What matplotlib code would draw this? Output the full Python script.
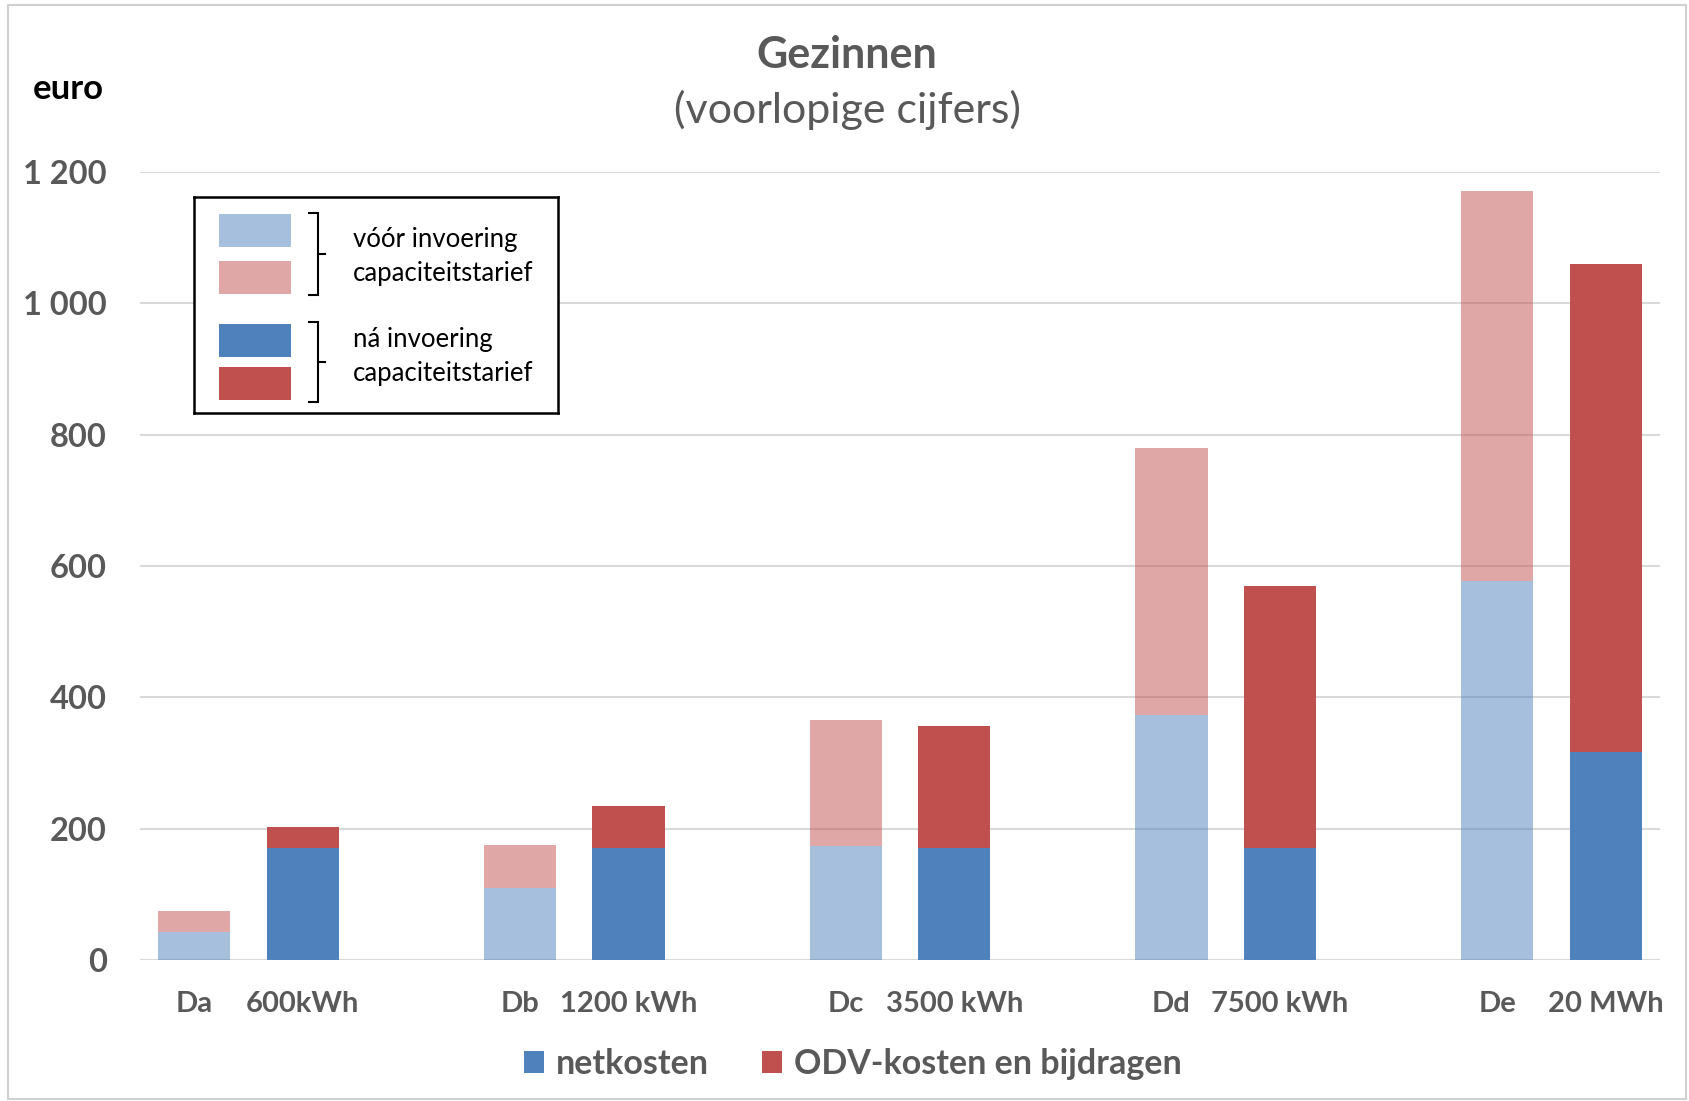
import matplotlib
matplotlib.use("Agg")
import matplotlib.pyplot as plt
from matplotlib.patches import Rectangle, Patch

plt.rcParams['font.family'] = ['Lato', 'DejaVu Sans']

# Data: yearly cost per household profile (euro)
groups = ['Da', 'Db', 'Dc', 'Dd', 'De']
verbruik = ['600kWh', '1200 kWh', '3500 kWh', '7500 kWh', '20 MWh']
voor_netkosten = [42, 109, 174, 373, 577]
voor_odv = [32, 66, 191, 406, 594]
na_netkosten = [170, 170, 170, 170, 317]
na_odv = [32, 64, 186, 399, 743]
y_ticks = [0, 200, 400, 600, 800, 1000, 1200]
y_tick_labels = ['0', '200', '400', '600', '800', '1 000', '1 200']

BLUE = '#4F81BD'
RED = '#C0504D'
GRID = '#D9D9D9'
TXT = '#595959'

W, H = 1689, 1101
fig = plt.figure(figsize=(W / 100, H / 100), dpi=100)


def fx(px):
    return px / W


def fy(py):
    return 1 - py / H


ax = fig.add_axes([fx(140), fy(960), fx(1660) - fx(140), fy(172) - fy(960)])
ax.set_xlim(-0.5, 13.5)
ax.set_ylim(0, 1200)

# each group occupies three slots: before, after, empty spacer
x_voor = [3 * i for i in range(len(groups))]
x_na = [3 * i + 1 for i in range(len(groups))]
bw = 0.665

ax.bar(x_voor, voor_netkosten, bw, color=BLUE, alpha=0.5, zorder=2)
ax.bar(x_voor, voor_odv, bw, bottom=voor_netkosten, color=RED, alpha=0.5, zorder=2)
ax.bar(x_na, na_netkosten, bw, color=BLUE, zorder=2)
ax.bar(x_na, na_odv, bw, bottom=na_netkosten, color=RED, zorder=2)

ax.set_yticks(y_ticks)
ax.set_yticklabels(y_tick_labels)
ax.yaxis.grid(True, color=GRID, lw=1.5)
ax.set_axisbelow(True)

xt = []
xl = []
for i in range(len(groups)):
    xt += [x_voor[i], x_na[i]]
    xl += [groups[i], verbruik[i]]
ax.set_xticks(xt)
ax.set_xticklabels(xl)

for s in ax.spines.values():
    s.set_visible(False)
ax.tick_params(length=0)
ax.tick_params(axis='y', pad=24, labelsize=23.5, labelcolor=TXT)
ax.tick_params(axis='x', pad=22, labelsize=21, labelcolor=TXT)
for lab in ax.get_xticklabels() + ax.get_yticklabels():
    lab.set_fontweight('bold')

# Titles
fig.text(fx(847), fy(55), 'Gezinnen', ha='center', va='center',
         fontsize=31, fontweight='bold', color=TXT)
fig.text(fx(847), fy(110), '(voorlopige cijfers)', ha='center', va='center',
         fontsize=31, color=TXT)
fig.text(fx(68), fy(89), 'euro', ha='center', va='center',
         fontsize=25, fontweight='bold', color='black')

# Explanatory key box (drawn in pixel coordinates)
lax = fig.add_axes([fx(194), fy(413), fx(558) - fx(194), fy(197) - fy(413)])
lax.set_xlim(194, 558)
lax.set_ylim(413, 197)
lax.set_xticks([])
lax.set_yticks([])
for s in lax.spines.values():
    s.set_color('black')
    s.set_linewidth(1.8)

key_rows = [(214, BLUE, 0.5), (261, RED, 0.5), (324, BLUE, 1.0), (367, RED, 1.0)]
for top, col, a in key_rows:
    lax.add_patch(Rectangle((219, top), 72, 33, facecolor=col, alpha=a, edgecolor='none'))

for y0, y1 in [(213, 295), (322, 402)]:
    ym = (y0 + y1) / 2
    lax.plot([309, 318, 318, 309], [y0, y0, y1, y1], color='black', lw=1.5,
             solid_joinstyle='miter')
    lax.plot([318, 325], [ym, ym], color='black', lw=1.5)

for ytxt, s in [(239, 'vóór invoering'), (273, 'capaciteitstarief'),
                (340, 'ná invoering'), (374, 'capaciteitstarief')]:
    lax.text(353, ytxt, s, ha='left', va='center', fontsize=18.5, color='black')

# Series legend at the bottom
handles = [Patch(facecolor=BLUE, label='netkosten'),
           Patch(facecolor=RED, label='ODV-kosten en bijdragen')]
fig.legend(handles=handles, loc='center', bbox_to_anchor=(fx(853), fy(1064)),
           ncol=2, frameon=False, prop={'weight': 'bold', 'size': 24.5},
           labelcolor=TXT, handlelength=0.6, handleheight=0.6,
           handletextpad=0.35, columnspacing=1.55)

# Outer frame
fig.add_artist(Rectangle((fx(8), fy(1099)), fx(1686) - fx(8), fy(5) - fy(1099),
                         transform=fig.transFigure, fill=False,
                         edgecolor='#D0D0D0', lw=1.5))

fig.savefig('out.png', dpi=100)
